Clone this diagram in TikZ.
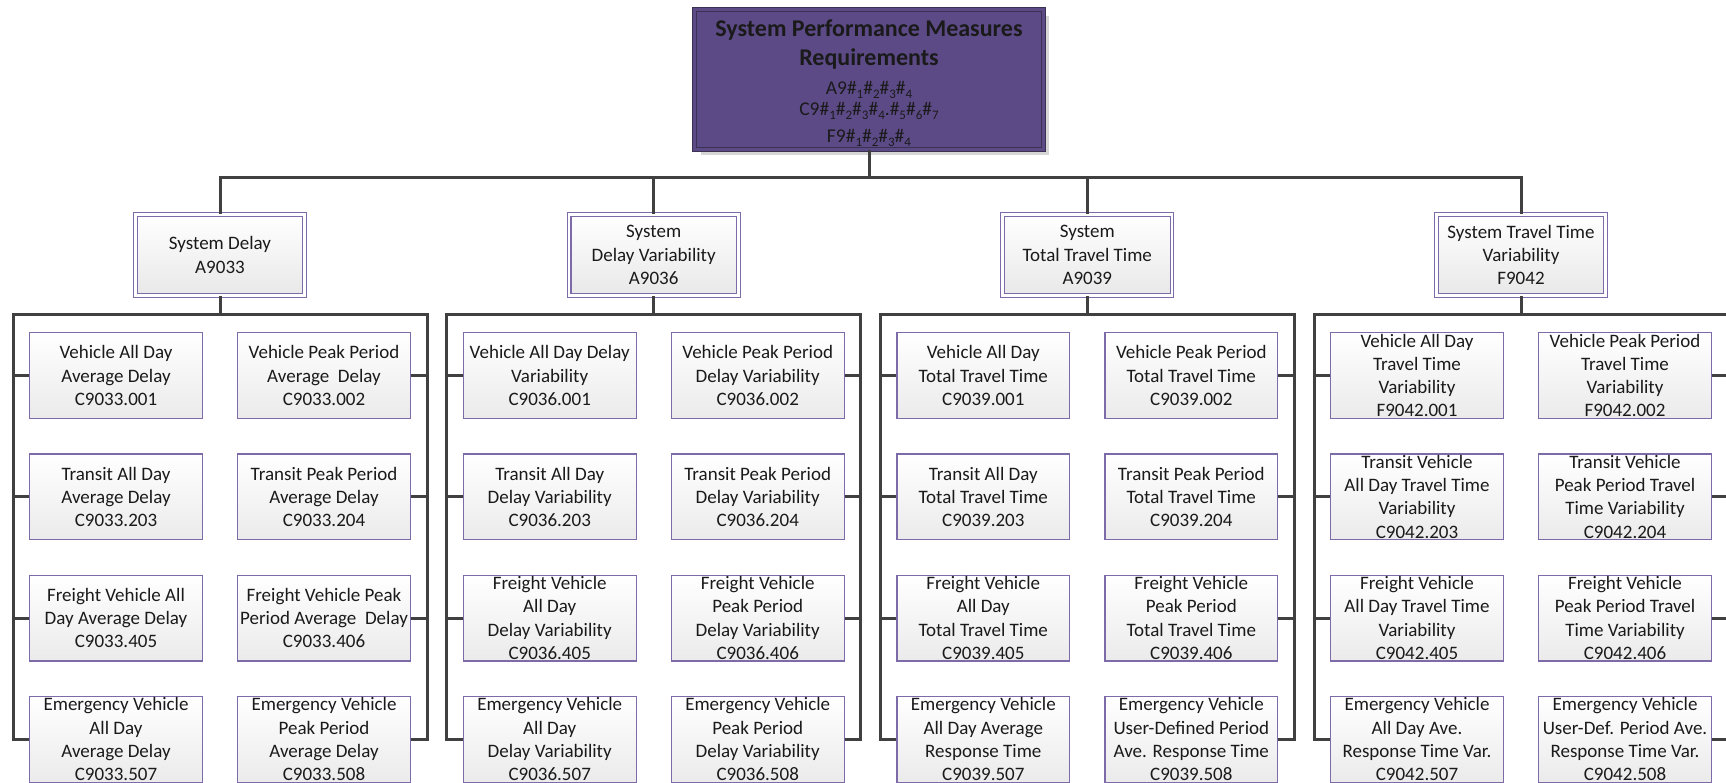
\documentclass[tikz,border=0pt]{standalone}
\usepackage{fontspec}
\setmainfont{Carlito}
\usetikzlibrary{shadows}

\definecolor{connclr}{HTML}{404040}
\definecolor{leafedge}{HTML}{7D6BA9}
\definecolor{topfill}{HTML}{5C4A86}
\definecolor{topedge}{HTML}{3B3152}
\definecolor{inktext}{HTML}{1A1A1A}

\newcommand\leaffont{\fontsize{19}{23.3}\selectfont}
\newcommand\reqfont{\fontsize{19.5}{29}\selectfont}
\newcommand\titlefont{\fontsize{24}{29}\selectfont\bfseries}
\newcommand\lowidx[1]{\raisebox{-0.22em}{\fontsize{13}{13}\selectfont #1}}

\begin{document}
\begin{tikzpicture}[x=1pt,y=-1pt,
  conn/.style={draw=connclr,line width=3pt,line join=miter},
  leaf/.style={draw=leafedge,line width=1.2pt,top color=white,bottom color=black!8,
    minimum width=172.8pt,minimum height=85.8pt,inner sep=0pt,align=center,
    font=\leaffont,text=inktext},
  midbox/.style={draw=leafedge,double=white,line width=1.1pt,double distance=2.6pt,
    top color=white,bottom color=black!9,
    minimum width=169.2pt,minimum height=81.2pt,inner sep=0pt,align=center,
    font=\leaffont,text=inktext},
  topbox/.style={draw=topedge,double=topfill,line width=1.1pt,double distance=3pt,
    fill=topfill,minimum width=348.6pt,minimum height=139.6pt,inner sep=0pt,
    align=center,font=\reqfont,text=inktext,
    drop shadow={shadow xshift=6pt,shadow yshift=-6pt,fill=black!16,opacity=1}}
]
\useasboundingbox (0,0) rectangle (1726,783);
\fill[white] (0,0) rectangle (1726,783);
\clip (0,0) rectangle (1726,783);

% root
\node[topbox] (top) at (869,79.5)
  {\titlefont\rule{0pt}{24pt}System Performance Measures\\
   \titlefont Requirements\\
   A9\#\lowidx{1}\#\lowidx{2}\#\lowidx{3}\#\lowidx{4}\\[-8pt]
   C9\#\lowidx{1}\#\lowidx{2}\#\lowidx{3}\#\lowidx{4}.\#\lowidx{5}\#\lowidx{6}\#\lowidx{7}\\[-2pt]
   F9\#\lowidx{1}\#\lowidx{2}\#\lowidx{3}\#\lowidx{4}};

% second level
\node[midbox] (g1) at (220,255)    {System Delay\\A9033};
\node[midbox] (g2) at (653.7,255)  {System\\Delay Variability\\A9036};
\node[midbox] (g3) at (1087.3,255) {System\\Total Travel Time\\A9039};
\node[midbox] (g4) at (1521,255)   {System Travel Time\\Variability\\F9042};

% System Delay
\node[leaf] (g1l1) at (116,375.5) {Vehicle All Day\\Average Delay\\C9033.001};
\node[leaf] (g1r1) at (324,375.5) {Vehicle Peak Period\\Average~ Delay\\C9033.002};
\node[leaf] (g1l2) at (116,496.8) {Transit All Day\\Average Delay\\C9033.203};
\node[leaf] (g1r2) at (324,496.8) {Transit Peak Period\\Average Delay\\C9033.204};
\node[leaf] (g1l3) at (116,618.1) {Freight Vehicle All\\Day Average Delay\\C9033.405};
\node[leaf] (g1r3) at (324,618.1) {Freight Vehicle Peak\\Period Average~ Delay\\C9033.406};
\node[leaf] (g1l4) at (116,739.4) {Emergency Vehicle\\All Day\\Average Delay\\C9033.507};
\node[leaf] (g1r4) at (324,739.4) {Emergency Vehicle\\Peak Period\\Average Delay\\C9033.508};

% System Delay Variability
\node[leaf] (g2l1) at (549.7,375.5) {Vehicle All Day Delay\\Variability\\C9036.001};
\node[leaf] (g2r1) at (757.7,375.5) {Vehicle Peak Period\\Delay Variability\\C9036.002};
\node[leaf] (g2l2) at (549.7,496.8) {Transit All Day\\Delay Variability\\C9036.203};
\node[leaf] (g2r2) at (757.7,496.8) {Transit Peak Period\\Delay Variability\\C9036.204};
\node[leaf] (g2l3) at (549.7,618.1) {Freight Vehicle\\All Day\\Delay Variability\\C9036.405};
\node[leaf] (g2r3) at (757.7,618.1) {Freight Vehicle\\Peak Period\\Delay Variability\\C9036.406};
\node[leaf] (g2l4) at (549.7,739.4) {Emergency Vehicle\\All Day\\Delay Variability\\C9036.507};
\node[leaf] (g2r4) at (757.7,739.4) {Emergency Vehicle\\Peak Period\\Delay Variability\\C9036.508};

% System Total Travel Time
\node[leaf] (g3l1) at (983.3,375.5) {Vehicle All Day\\Total Travel Time\\C9039.001};
\node[leaf] (g3r1) at (1191.3,375.5) {Vehicle Peak Period\\Total Travel Time\\C9039.002};
\node[leaf] (g3l2) at (983.3,496.8) {Transit All Day\\Total Travel Time\\C9039.203};
\node[leaf] (g3r2) at (1191.3,496.8) {Transit Peak Period\\Total Travel Time\\C9039.204};
\node[leaf] (g3l3) at (983.3,618.1) {Freight Vehicle\\All Day\\Total Travel Time\\C9039.405};
\node[leaf] (g3r3) at (1191.3,618.1) {Freight Vehicle\\Peak Period\\Total Travel Time\\C9039.406};
\node[leaf] (g3l4) at (983.3,739.4) {Emergency Vehicle\\All Day Average\\Response Time\\C9039.507};
\node[leaf] (g3r4) at (1191.3,739.4) {Emergency Vehicle\\User-Defined Period\\Ave. Response Time\\C9039.508};

% System Travel Time Variability
\node[leaf] (g4l1) at (1417,375.5) {Vehicle All Day\\Travel Time\\Variability\\F9042.001};
\node[leaf] (g4r1) at (1625,375.5) {Vehicle Peak Period\\Travel Time\\Variability\\F9042.002};
\node[leaf] (g4l2) at (1417,496.8) {Transit Vehicle\\All Day Travel Time\\Variability\\C9042.203};
\node[leaf] (g4r2) at (1625,496.8) {Transit Vehicle\\Peak Period Travel\\Time Variability\\C9042.204};
\node[leaf] (g4l3) at (1417,618.1) {Freight Vehicle\\All Day Travel Time\\Variability\\C9042.405};
\node[leaf] (g4r3) at (1625,618.1) {Freight Vehicle\\Peak Period Travel\\Time Variability\\C9042.406};
\node[leaf] (g4l4) at (1417,739.4) {Emergency Vehicle\\All Day Ave.\\Response Time Var.\\C9042.507};
\node[leaf] (g4r4) at (1625,739.4) {Emergency Vehicle\\User-Def. Period Ave.\\Response Time Var.\\C9042.508};

% bus under the root
\coordinate (bus) at (869,178);
\draw[conn] (top.south) -- (bus);
\draw[conn] (g1.north) |- (bus) -| (g4.north);
\draw[conn] (g2.north) -- (g2.north |- bus);
\draw[conn] (g3.north) -- (g3.north |- bus);

% brackets of each group
\coordinate (g1bl) at (13,315);     \coordinate (g1br) at (427,315);
\coordinate (g2bl) at (446.7,315);  \coordinate (g2br) at (860.7,315);
\coordinate (g3bl) at (880.3,315);  \coordinate (g3br) at (1294.3,315);
\coordinate (g4bl) at (1314,315);   \coordinate (g4br) at (1728,315);

\foreach \g in {1,2,3,4}{
  \draw[conn] (g\g.south) -- (g\g.south |- g\g bl);
  \draw[conn] (g\g l4.west) -| (g\g bl) -- (g\g br) |- (g\g r4.east);
  \foreach \r in {1,2,3}{
    \draw[conn] (g\g l\r.west) -- (g\g l\r.west -| g\g bl);
    \draw[conn] (g\g r\r.east) -- (g\g r\r.east -| g\g br);
  }
}
\end{tikzpicture}
\end{document}
